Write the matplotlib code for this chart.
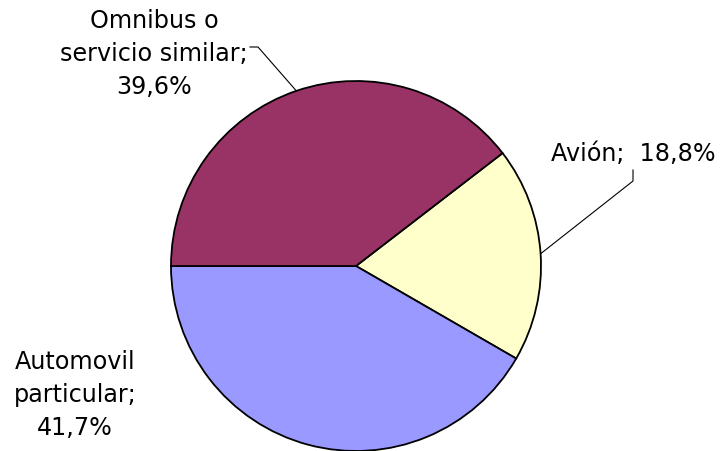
import numpy as np
import matplotlib.pyplot as plt

# data
labels = ["Avión", "Automovil\nparticular", "Omnibus o\nservicio similar"]
shares = [18.8, 41.7, 39.6]
colors = ["#FFFFCC", "#9999FF", "#993366"]

W, H = 722, 451
fig = plt.figure(figsize=(W / 100, H / 100), dpi=100)
ax = fig.add_axes([0, 0, 1, 1])

cx, cy, r = 356, 185, 185
start = 37.6
wedges, _ = ax.pie(shares, colors=colors, startangle=start, counterclock=False,
                   center=(cx, cy), radius=r, frame=True,
                   wedgeprops=dict(edgecolor="black", linewidth=1.3))
for w in wedges:
    w.set_clip_on(False)
ax.set_xlim(0, W)
ax.set_ylim(0, H)
ax.axis("off")

fs = 17.2

def edge_point(i):
    a0 = start - sum(shares[:i]) / sum(shares) * 360
    a1 = a0 - shares[i] / sum(shares) * 360
    m = np.deg2rad((a0 + a1) / 2)
    return cx + r * np.cos(m), cy + r * np.sin(m)

def lab(i):
    return f"{labels[i]};\n{shares[i]:.1f}%".replace(".", ",")

# Avion
ax.text(551, H - 154, f"{labels[0]};  {shares[0]:.1f}%".replace(".", ","),
        fontsize=fs, ha="left", va="center")
ex, ey = edge_point(0)
ax.plot([633, 633, ex], [H - 170, H - 181, ey], color="black", lw=0.8)

# Automovil
ax.text(75, H - 395, lab(1), fontsize=fs, ha="center", va="center",
        linespacing=1.45)

# Omnibus
ax.text(154, H - 54, lab(2), fontsize=fs, ha="center", va="center",
        linespacing=1.45)
ex, ey = edge_point(2)
ax.plot([250, 258, ex], [H - 47, H - 47, ey], color="black", lw=0.8)

fig.savefig("out.png", dpi=100)
